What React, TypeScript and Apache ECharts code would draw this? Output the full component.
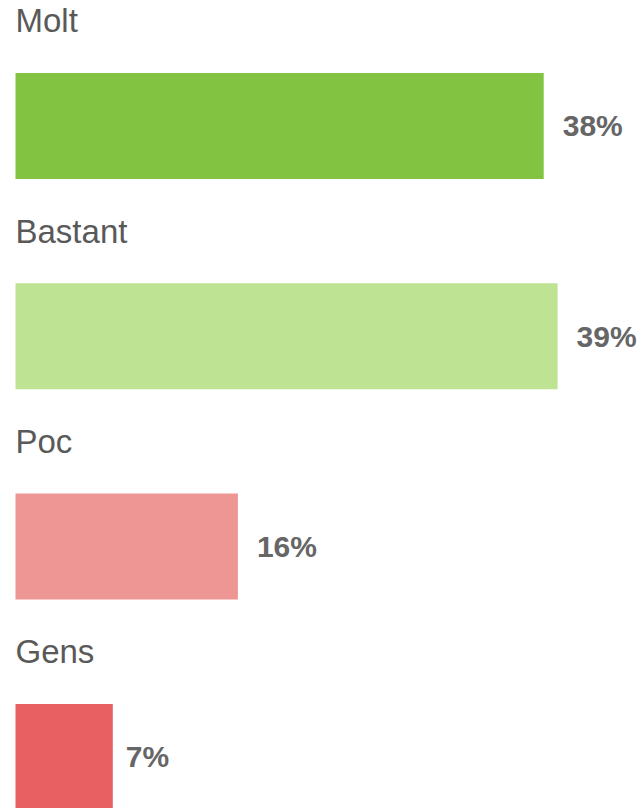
import React, { useEffect, useRef } from "react";
import * as echarts from "echarts";

const categories = ["Molt", "Bastant", "Poc", "Gens"];
const values = [38, 39, 16, 7];
const barColors = ["#82C341", "#BDE393", "#EE9694", "#E86062"];
const labelGaps = [19, 19, 19, 13];

export default function App() {
  const ref = useRef<HTMLDivElement>(null);
  useEffect(() => {
    if (!ref.current) return;
    const chart = echarts.init(ref.current, null, { renderer: "svg" });
    chart.setOption({
      animation: false,
      grid: { left: 15.5, right: 0, top: 20.8, bottom: 7.9, containLabel: false },
      xAxis: {
        type: "value",
        min: 0,
        max: 45,
        show: false,
      },
      yAxis: {
        type: "category",
        data: categories,
        inverse: true,
        show: false,
      },
      series: [
        {
          type: "bar",
          barWidth: 106,
          data: values.map((v, i) => ({
            value: v,
            itemStyle: { color: barColors[i] },
            label: { distance: labelGaps[i] },
          })),
          label: {
            show: true,
            position: "right",
            distance: 19,
            formatter: "{c}%",
            fontFamily: "Liberation Sans, Arial, sans-serif",
            fontSize: 30,
            fontWeight: "bold",
            color: "#666666",
          },
          silent: true,
        },
        {
          type: "bar",
          barWidth: 106,
          barGap: "-100%",
          data: values,
          itemStyle: { color: "rgba(0,0,0,0)" },
          label: {
            show: true,
            position: [0, -52],
            verticalAlign: "middle",
            align: "left",
            formatter: (p: any) => categories[p.dataIndex],
            fontFamily: "Liberation Sans, Arial, sans-serif",
            fontSize: 33,
            color: "#595959",
          },
          silent: true,
        },
      ],
    });
    return () => chart.dispose();
  }, []);
  return (
    <div style={{ position: "fixed", left: 0, top: 0, width: 641, height: 808, overflow: "hidden", background: "#fff" }}>
      <div ref={ref} style={{ width: 641, height: 870 }} />
    </div>
  );
}
